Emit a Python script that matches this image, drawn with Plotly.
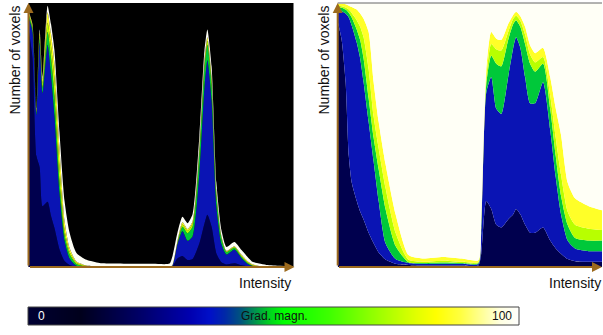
import plotly.graph_objects as go

# ---------------- data ----------------
intensity = [0, 1.5, 3, 4.2, 5.3, 7.2, 8.5, 9.8, 11.7, 13.6, 15.5, 18.1, 21.9, 26.8, 32, 40, 47,
             53.2, 54.3, 56.2, 58.1, 60, 61.9, 64.5, 66.4, 67.5, 69.1, 70.9, 72.8, 74.7, 77.7,
             80.4, 82.5, 84.5, 87, 89.8, 95, 100]

voxel_count = [97, 92, 60, 90, 72, 99, 92, 82, 51, 25, 13, 5.3, 2.7, 1.5, 1.3, 1.2, 1.2,
               1.3, 4, 13, 19, 16.6, 20, 50, 82, 90, 76, 32, 14, 7.6, 9.5,
               6.4, 4, 2, 1.3, 0.8, 0.5, 0.3]

# cumulative fraction of voxels whose gradient magnitude is below each band's upper limit
frac_navy = [0.93, 0.86, 0.7, 0.42, 0.32, 0.25, 0.21, 0.18, 0.13, 0.09, 0.055, 0.028, 0.012, 0.008, 0.006, 0.006, 0.006,
             0.006, 0.05, 0.25, 0.22, 0.16, 0.15, 0.18, 0.2, 0.22, 0.2, 0.16, 0.13, 0.13, 0.15,
             0.1, 0.07, 0.05, 0.03, 0.022, 0.02, 0.02]
frac_blue = [0.975, 0.97, 0.96, 0.945, 0.915, 0.85, 0.79, 0.7, 0.55, 0.4, 0.25, 0.09, 0.03, 0.015, 0.012, 0.012, 0.012,
             0.012, 0.13, 0.66, 0.72, 0.6, 0.58, 0.72, 0.83, 0.87, 0.83, 0.72, 0.62, 0.62, 0.7,
             0.52, 0.34, 0.2, 0.1, 0.07, 0.06, 0.06]
frac_green = [0.985, 0.982, 0.975, 0.963, 0.945, 0.9, 0.86, 0.79, 0.64, 0.49, 0.37, 0.22, 0.08, 0.018, 0.015, 0.017, 0.015,
              0.015, 0.14, 0.69, 0.8, 0.77, 0.76, 0.86, 0.92, 0.935, 0.91, 0.845, 0.77, 0.74, 0.77,
              0.6, 0.42, 0.27, 0.16, 0.11, 0.1, 0.1]
frac_lime = [0.99, 0.988, 0.983, 0.975, 0.962, 0.935, 0.91, 0.87, 0.75, 0.57, 0.45, 0.3, 0.13, 0.027, 0.02, 0.024, 0.02,
             0.019, 0.15, 0.71, 0.845, 0.825, 0.82, 0.89, 0.94, 0.952, 0.933, 0.88, 0.805, 0.775, 0.795,
             0.65, 0.49, 0.35, 0.21, 0.16, 0.145, 0.14]
frac_yellow = [0.998, 0.997, 0.995, 0.99, 0.985, 0.975, 0.96, 0.94, 0.89, 0.7, 0.55, 0.39, 0.2, 0.045, 0.032, 0.038, 0.032,
               0.026, 0.17, 0.745, 0.89, 0.865, 0.86, 0.92, 0.955, 0.967, 0.95, 0.91, 0.84, 0.81, 0.83,
               0.72, 0.6, 0.5, 0.32, 0.26, 0.23, 0.215]
frac_all = [1.0] * len(intensity)

band_names = ["0-25", "25-45", "45-60", "60-75", "75-90", "90-100"]
band_colors = ["#00004e", "#0a14b4", "#00c83a", "#b8ff00", "#ffff28", "#fffff6"]

grad_range = [0, 100]
grad_colorscale = [[0, "#000033"], [0.106, "#00001c"], [0.228, "#000068"], [0.33, "#0000b0"],
                   [0.37, "#0010c8"], [0.40, "#0028a8"], [0.43, "#005080"], [0.46, "#009050"],
                   [0.49, "#00d020"], [0.52, "#00ff00"], [0.615, "#40ff00"], [0.717, "#a0ff00"],
                   [0.788, "#e0ff00"], [0.83, "#ffff00"], [0.88, "#ffff40"], [0.92, "#ffff90"],
                   [0.96, "#ffffe0"], [1, "#ffffff"]]

# ---------------- figure ----------------
W, H = 603, 335
def px(v):
    return v / W
def py(v):
    return 1 - v / H

bounds = [frac_navy, frac_blue, frac_green, frac_lime, frac_yellow, frac_all]
line_style = dict(width=0, shape="spline", smoothing=0.6)

fig = go.Figure()
# left panel: absolute counts, stacked by gradient magnitude
for k, b in enumerate(bounds):
    fig.add_trace(go.Scatter(
        x=intensity, y=[c * f for c, f in zip(voxel_count, b)],
        mode="lines", line=line_style, name=band_names[k],
        fill="tozeroy" if k == 0 else "tonexty", fillcolor=band_colors[k],
        hoverinfo="skip", showlegend=False, xaxis="x", yaxis="y"))
# right panel: per-intensity normalised
for k, b in enumerate(bounds):
    fig.add_trace(go.Scatter(
        x=intensity, y=b,
        mode="lines", line=line_style, name=band_names[k],
        fill="tozeroy" if k == 0 else "tonexty", fillcolor=band_colors[k],
        hoverinfo="skip", showlegend=False, xaxis="x2", yaxis="y2"))
# colour bar
fig.add_trace(go.Heatmap(
    x=grad_range, y=[0, 1], z=[grad_range, grad_range],
    colorscale=grad_colorscale, zmin=grad_range[0], zmax=grad_range[1],
    zsmooth="best", showscale=False, hoverinfo="skip", xaxis="x3", yaxis="y3"))

hidden = dict(showgrid=False, zeroline=False, showticklabels=False, showline=False, ticks="")
fig.update_layout(
    width=W, height=H, margin=dict(l=0, r=0, t=0, b=0),
    paper_bgcolor="white", plot_bgcolor="white",
    font=dict(family="Liberation Sans, Arial, sans-serif", color="#111111"),
    xaxis=dict(domain=[px(28.5), px(293.5)], range=[0, 100], anchor="y", **hidden),
    yaxis=dict(domain=[py(267), py(3)], range=[0, 100], anchor="x", **hidden),
    xaxis2=dict(domain=[px(337.7), px(602)], range=[0, 100], anchor="y2", **hidden),
    yaxis2=dict(domain=[py(267), py(3)], range=[0, 1], anchor="x2", **hidden),
    xaxis3=dict(domain=[px(28), px(519)], range=grad_range, anchor="y3", **hidden),
    yaxis3=dict(domain=[py(325), py(307)], range=[0, 1], anchor="x3", **hidden),
)

fig.add_shape(type="rect", xref="x domain", yref="y domain", x0=0, x1=1, y0=0, y1=1,
              fillcolor="black", line=dict(width=0), layer="below")
fig.add_shape(type="line", xref="x2 domain", yref="y2 domain", x0=0, x1=1, y0=1, y1=1,
              line=dict(color="#666666", width=1))
fig.add_shape(type="rect", xref="x3 domain", yref="y3 domain", x0=0, x1=1, y0=0, y1=1,
              line=dict(color="#444444", width=1))

axis_color = "#9c6a1e"
arrows = [
    (px(28.5), py(3), 0, 264),
    (px(294.5), py(267), -266, 0),
    (px(337.7), py(3), 0, 264),
    (px(602.5), py(267), -265, 0),
]
for x, y, ax, ay in arrows:
    fig.add_annotation(x=x, y=y, xref="paper", yref="paper", ax=ax, ay=ay,
                       axref="pixel", ayref="pixel", text="", showarrow=True,
                       arrowhead=2, arrowsize=1, arrowwidth=2, arrowcolor=axis_color, standoff=0)

lab = dict(size=14, color="#111111")
fig.add_annotation(x=px(14), y=py(4), xref="paper", yref="paper", text="Number of voxels",
                   textangle=-90, xanchor="center", yanchor="top", showarrow=False, font=lab)
fig.add_annotation(x=px(323), y=py(4), xref="paper", yref="paper", text="Number of voxels",
                   textangle=-90, xanchor="center", yanchor="top", showarrow=False, font=lab)
fig.add_annotation(x=px(293), y=py(283), xref="paper", yref="paper", text="Intensity",
                   xanchor="right", yanchor="middle", showarrow=False, font=lab)
fig.add_annotation(x=px(603), y=py(283), xref="paper", yref="paper", text="Intensity",
                   xanchor="right", yanchor="middle", showarrow=False, font=lab)

cb = dict(size=12)
fig.add_annotation(x=px(36), y=py(316), xref="paper", yref="paper", text="0",
                   xanchor="left", yanchor="middle", showarrow=False, font=dict(cb, color="white"))
fig.add_annotation(x=px(274), y=py(316), xref="paper", yref="paper", text="Grad. magn.",
                   xanchor="center", yanchor="middle", showarrow=False, font=dict(cb, color="#111111"))
fig.add_annotation(x=px(514), y=py(316), xref="paper", yref="paper", text="100",
                   xanchor="right", yanchor="middle", showarrow=False, font=dict(cb, color="#111111"))

fig.write_html("out.html", config={"displayModeBar": False, "staticPlot": True},
               post_script="document.body.style.margin='0px';document.body.style.overflow='hidden';")
